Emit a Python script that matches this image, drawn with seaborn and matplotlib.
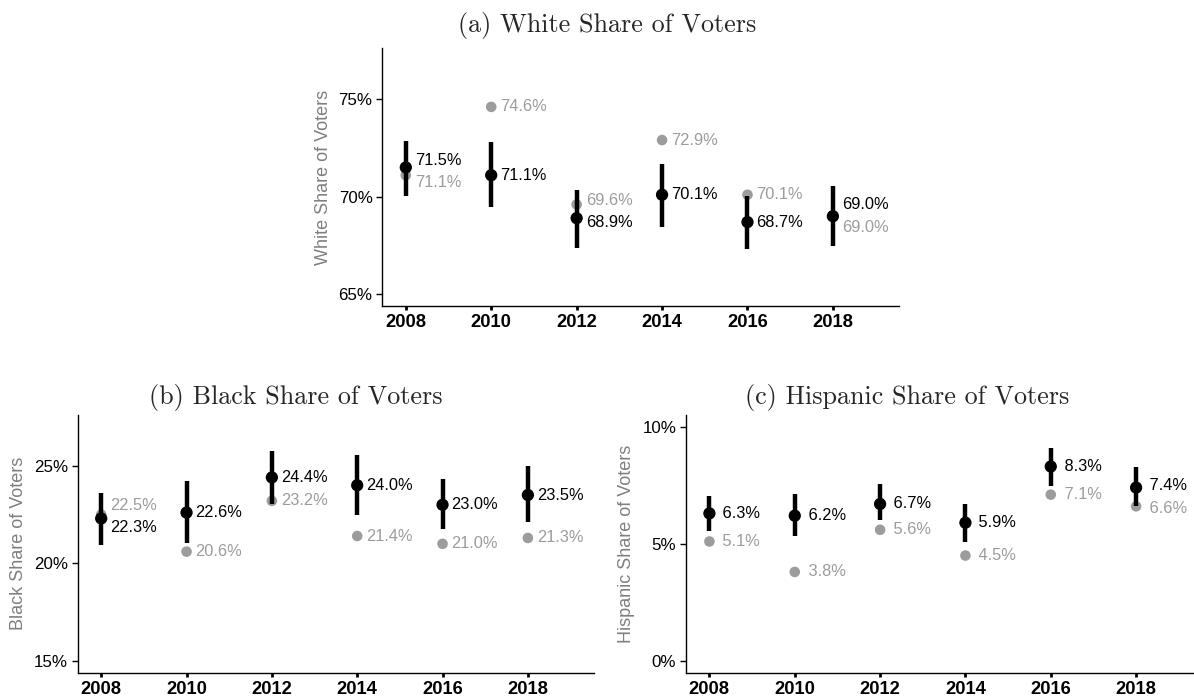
"""
Share of voters by race, 2008-2018: survey estimate with CI (black) vs. benchmark (gray).
"""
import numpy as np
import pandas as pd
import matplotlib
matplotlib.use("Agg")
import matplotlib.pyplot as plt
import seaborn as sns

years = [2008, 2010, 2012, 2014, 2016, 2018]

# (a) White
white_est = [71.5, 71.1, 68.9, 70.1, 68.7, 69.0]
white_lo = [70.05, 69.45, 67.35, 68.45, 67.3, 67.45]
white_hi = [72.85, 72.8, 70.35, 71.65, 70.05, 70.55]
white_bench = [71.1, 74.6, 69.6, 72.9, 70.1, 69.0]

# (b) Black
black_est = [22.3, 22.6, 24.4, 24.0, 23.0, 23.5]
black_lo = [20.95, 21.05, 23.05, 22.5, 21.75, 22.1]
black_hi = [23.6, 24.2, 25.75, 25.55, 24.3, 25.0]
black_bench = [22.5, 20.6, 23.2, 21.4, 21.0, 21.3]

# (c) Hispanic
hisp_est = [6.3, 6.2, 6.7, 5.9, 8.3, 7.4]
hisp_lo = [5.55, 5.35, 6.0, 5.07, 7.45, 6.6]
hisp_hi = [7.03, 7.13, 7.55, 6.71, 9.1, 8.29]
hisp_bench = [5.1, 3.8, 5.6, 4.5, 7.1, 6.6]

GRAY = "#9c9c9c"
LABEL_FONT = "Liberation Sans"


def label_positions(est, bench, gap):
    """Push the two labels apart when the points sit too close together."""
    est_y, bench_y = [], []
    for e, b in zip(est, bench):
        if abs(e - b) < gap:
            mid = (e + b) / 2
            if e >= b:
                est_y.append(mid + gap / 2)
                bench_y.append(mid - gap / 2)
            else:
                est_y.append(mid - gap / 2)
                bench_y.append(mid + gap / 2)
        else:
            est_y.append(e)
            bench_y.append(b)
    return est_y, bench_y


def draw_panel(ax, est, lo, hi, bench, ylim, yticks, ylabel):
    df = pd.DataFrame({"year": years, "est": est, "lo": lo, "hi": hi, "bench": bench})

    sns.scatterplot(data=df, x="year", y="bench", ax=ax, color=GRAY, s=58,
                    edgecolor="none", zorder=2)
    ax.vlines(df["year"], df["lo"], df["hi"], color="black", lw=3.2, zorder=3)
    sns.scatterplot(data=df, x="year", y="est", ax=ax, color="black", s=78,
                    edgecolor="none", zorder=4)

    ax.set_xlim(2007.45, 2019.55)
    ax.set_ylim(*ylim)
    gap = 0.0875 * (ylim[1] - ylim[0])
    est_y, bench_y = label_positions(est, bench, gap)

    for x, v, y in zip(years, est, est_y):
        ax.annotate(f"{v:4.1f}%", (x, y), xytext=(6.5, 0), textcoords="offset points",
                    ha="left", va="center", fontsize=11.8, color="black",
                    family=LABEL_FONT, zorder=5)
    for x, v, y in zip(years, bench, bench_y):
        ax.annotate(f"{v:4.1f}%", (x, y), xytext=(6.5, 0), textcoords="offset points",
                    ha="left", va="center", fontsize=11.8, color=GRAY,
                    family=LABEL_FONT, zorder=5)

    ax.set_xticks(years)
    ax.set_xticklabels([str(y) for y in years], fontweight="bold", fontsize=13.2,
                       family=LABEL_FONT)
    ax.set_yticks(yticks)
    ax.set_yticklabels([f"{t}%" for t in yticks], fontsize=12.2, family=LABEL_FONT)
    ax.set_xlabel("")
    ax.set_ylabel(ylabel, fontsize=13, color="#7f7f7f", family=LABEL_FONT, labelpad=5)

    ax.tick_params(axis="y", length=4, width=1, pad=3, colors="black")
    ax.tick_params(axis="x", length=3, width=2, pad=3, colors="black")
    for side in ["left", "bottom"]:
        ax.spines[side].set_linewidth(1.0)
        ax.spines[side].set_color("black")
    sns.despine(ax=ax)


sns.set_style("ticks")
plt.rcParams["font.family"] = [LABEL_FONT, "DejaVu Sans"]

fig = plt.figure(figsize=(11.94, 6.96), dpi=100)
ax_a = fig.add_axes([0.3202, 0.5603, 0.4328, 0.3703])
ax_b = fig.add_axes([0.0651, 0.0335, 0.4324, 0.3703])
ax_c = fig.add_axes([0.5745, 0.0335, 0.4324, 0.3703])

draw_panel(ax_a, white_est, white_lo, white_hi, white_bench,
           (64.4, 77.6), [65, 70, 75], "White Share of Voters")
draw_panel(ax_b, black_est, black_lo, black_hi, black_bench,
           (14.4, 27.6), [15, 20, 25], "Black Share of Voters")
draw_panel(ax_c, hisp_est, hisp_lo, hisp_hi, hisp_bench,
           (-0.5, 10.5), [0, 5, 10], "Hispanic Share of Voters")

# Subfigure captions in a LaTeX-like serif
title_kw = dict(ha="center", va="baseline", fontsize=18.8, family="cmr10")
fig.text(606.7 / 1194, 1 - 31.7 / 696, "(a) White Share of Voters", **title_kw)
fig.text(296 / 1194, 1 - 403.7 / 696, "(b) Black Share of Voters", **title_kw)
fig.text(907 / 1194, 1 - 403.7 / 696, "(c) Hispanic Share of Voters", **title_kw)

fig.savefig("out.png", dpi=100)
